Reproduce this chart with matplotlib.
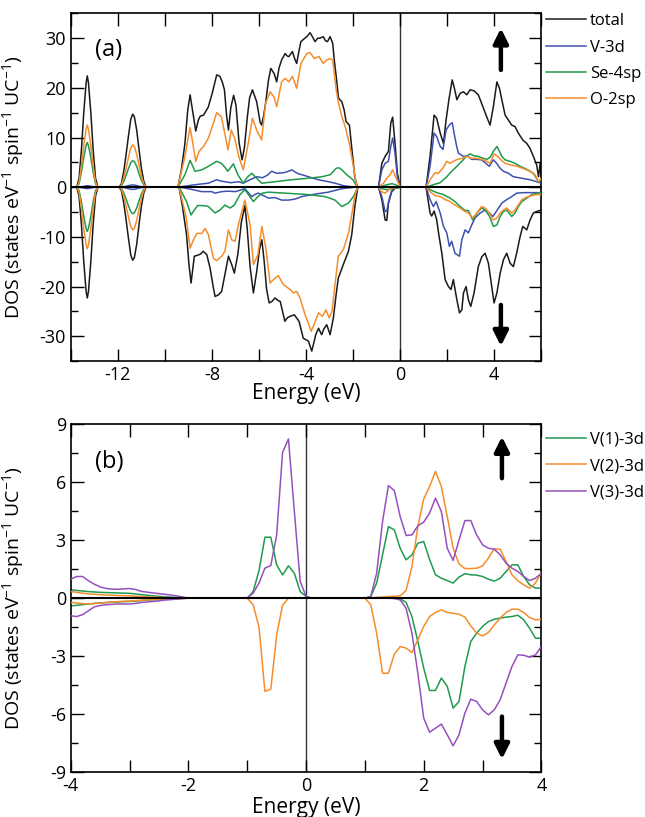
import matplotlib
matplotlib.use('Agg')
import matplotlib.pyplot as plt
from matplotlib.ticker import MultipleLocator, FuncFormatter

plt.rcParams['font.family'] = ['Open Sans', 'DejaVu Sans']
plt.rcParams['mathtext.fontset'] = 'custom'
plt.rcParams['mathtext.rm'] = 'Open Sans'
plt.rcParams['mathtext.it'] = 'Open Sans:italic'
plt.rcParams['axes.unicode_minus'] = False

# ---------------- panel (a) data : (energy eV, DOS) ----------------
p1_E = [-13.75, -13.65, -13.55, -13.45, -13.35, -13.3, -13.25, -13.15, -13.05, -12.95, -12.85]
p2_E = [-11.95, -11.85, -11.75, -11.65, -11.55, -11.45, -11.37, -11.3, -11.2, -11.1, -11.0, -10.9, -10.8]

total_up_p1 = [0, 1.8, 7.5, 15.0, 21.0, 22.4, 21.0, 15.0, 7.5, 1.8, 0]
total_up_p2 = [0, 0.7, 3.2, 6.6, 10.3, 13.7, 14.7, 14.2, 11.5, 7.5, 3.8, 1.2, 0]
total_dn_p1 = [0, -1.8, -7.5, -15.0, -21.0, -22.3, -21.0, -15.0, -7.5, -1.8, 0]
total_dn_p2 = [0, -0.7, -3.2, -6.6, -10.3, -13.7, -14.7, -14.2, -11.5, -7.5, -3.8, -1.2, 0]
v3d_up_p1 = [0, 0.02, 0.07, 0.17, 0.27, 0.3, 0.27, 0.17, 0.07, 0.02, 0]
v3d_up_p2 = [0, 0.03, 0.08, 0.17, 0.3, 0.42, 0.45, 0.42, 0.32, 0.18, 0.08, 0.03, 0]
v3d_dn_p1 = [0, -0.02, -0.07, -0.17, -0.27, -0.3, -0.27, -0.17, -0.07, -0.02, 0]
v3d_dn_p2 = [0, -0.03, -0.08, -0.17, -0.3, -0.42, -0.45, -0.42, -0.32, -0.18, -0.08, -0.03, 0]
se_up_p1 = [0, 0.7, 3.0, 6.0, 8.4, 9.0, 8.4, 6.0, 3.0, 0.7, 0]
se_up_p2 = [0, 0.25, 1.15, 2.4, 3.75, 4.95, 5.35, 5.15, 4.2, 2.7, 1.4, 0.45, 0]
se_dn_p1 = [0, -0.7, -2.9, -5.9, -8.3, -8.9, -8.3, -5.9, -2.9, -0.7, 0]
se_dn_p2 = [0, -0.25, -1.15, -2.4, -3.75, -4.95, -5.35, -5.15, -4.2, -2.7, -1.4, -0.45, 0]
o_up_p1 = [0, 1.0, 4.2, 8.4, 11.7, 12.5, 11.7, 8.4, 4.2, 1.0, 0]
o_up_p2 = [0, 0.4, 1.85, 3.8, 5.95, 7.9, 8.5, 8.2, 6.65, 4.35, 2.2, 0.7, 0]
o_dn_p1 = [0, -1.0, -4.2, -8.4, -11.6, -12.4, -11.6, -8.4, -4.2, -1.0, 0]
o_dn_p2 = [0, -0.4, -1.85, -3.85, -6.0, -8.0, -8.6, -8.3, -6.7, -4.4, -2.2, -0.7, 0]

total_up_rest = [
    (-9.45, 0), (-9.3, 3.5), (-9.15, 8.8), (-9.03, 15.5), (-8.93, 18.6), (-8.83, 15.5), (-8.69, 11.3),
    (-8.58, 13.5), (-8.5, 14.3), (-8.36, 14.5), (-8.16, 16.1), (-7.99, 18.9), (-7.8, 22.6), (-7.66, 22.3),
    (-7.55, 21.0), (-7.47, 19.6), (-7.38, 14.5), (-7.3, 11.5), (-7.2, 16.0), (-7.08, 18.5), (-6.98, 16.5),
    (-6.85, 9.0), (-6.72, 5.5), (-6.62, 8.0), (-6.5, 14.0), (-6.4, 18.0), (-6.28, 19.6), (-6.1, 17.2),
    (-5.95, 13.0), (-5.89, 12.5), (-5.8, 14.5), (-5.72, 16.9), (-5.6, 21.5), (-5.5, 23.9), (-5.36, 22.9),
    (-5.25, 21.2), (-5.15, 24.0), (-5.04, 25.6), (-4.89, 26.9), (-4.8, 26.4), (-4.73, 26.3), (-4.58, 27.3),
    (-4.48, 25.8), (-4.4, 24.9), (-4.3, 27.5), (-4.22, 29.3), (-4.1, 29.8), (-3.97, 30.3), (-3.83, 31.1),
    (-3.72, 30.2), (-3.62, 29.3), (-3.5, 30.0), (-3.41, 30.0), (-3.27, 30.3), (-3.18, 29.5), (-3.09, 29.3),
    (-2.98, 30.3), (-2.87, 29.0), (-2.8, 25.5), (-2.72, 22.3), (-2.62, 17.9), (-2.48, 17.2), (-2.38, 15.5),
    (-2.3, 13.2), (-2.16, 12.5), (-2.05, 7.5), (-1.93, 2.1), (-1.82, 0),
    (-0.92, 0), (-0.78, 4.8), (-0.64, 6.2), (-0.5, 7.2), (-0.4, 12.9), (-0.32, 14.1), (-0.22, 8.8),
    (-0.12, 2.8), (0.0, 0),
    (1.1, 0), (1.27, 6.2), (1.44, 14.5), (1.55, 13.9), (1.7, 10.9), (1.84, 8.8), (1.95, 13.5), (2.07, 17.6),
    (2.21, 21.6), (2.29, 20.2), (2.41, 17.6), (2.55, 18.9), (2.69, 19.2), (2.83, 18.6), (2.97, 19.6),
    (3.14, 19.4), (3.32, 18.6), (3.46, 16.9), (3.65, 14.5), (3.82, 12.5), (3.96, 16.2), (4.11, 21.2),
    (4.22, 19.9), (4.32, 17.6), (4.46, 14.5), (4.6, 13.5), (4.74, 12.5), (4.88, 12.2), (5.02, 10.9),
    (5.21, 9.5), (5.38, 8.8), (5.52, 7.8), (5.66, 6.2), (5.8, 4.5), (5.88, 2.1), (5.95, 4.8), (6.0, 2.1)]

total_dn_rest = [
    (-9.4, 0), (-9.25, -4.0), (-9.08, -9.6), (-8.98, -15.5), (-8.89, -19.3), (-8.75, -13.9), (-8.61, -13.7),
    (-8.5, -13.5), (-8.37, -12.9), (-8.22, -13.6), (-8.08, -16.3), (-7.95, -20.0), (-7.87, -22.0),
    (-7.73, -21.7), (-7.59, -21.0), (-7.45, -17.6), (-7.3, -13.9), (-7.16, -15.6), (-7.05, -17.3),
    (-6.9, -13.5), (-6.75, -7.0), (-6.6, -3.7), (-6.5, -8.5), (-6.38, -16.0), (-6.24, -21.3), (-6.1, -17.0),
    (-5.98, -12.5), (-5.88, -10.6), (-5.78, -15.0), (-5.68, -20.5), (-5.57, -23.3), (-5.45, -23.0),
    (-5.32, -22.3), (-5.2, -22.8), (-5.1, -23.0), (-4.9, -27.0), (-4.8, -26.3), (-4.68, -26.0), (-4.5, -25.7),
    (-4.3, -27.0), (-4.12, -30.4), (-3.9, -31.0), (-3.83, -32.0), (-3.76, -33.0), (-3.68, -31.5),
    (-3.59, -29.7), (-3.47, -28.4), (-3.34, -29.7), (-3.24, -28.5), (-3.12, -27.7), (-2.98, -29.7),
    (-2.84, -26.3), (-2.72, -21.5), (-2.63, -18.3), (-2.42, -15.6), (-2.2, -12.9), (-2.06, -9.6),
    (-1.92, -3.6), (-1.8, 0),
    (-0.92, 0), (-0.78, -2.5), (-0.64, -6.6), (-0.57, -6.7), (-0.5, -3.2), (-0.36, -0.9), (-0.22, -0.2), (0.0, 0),
    (1.1, 0), (1.2, -3.0), (1.27, -5.2), (1.34, -5.8), (1.44, -4.8), (1.55, -6.5), (1.63, -9.2), (1.77, -13.3),
    (1.91, -18.6), (2.05, -20.0), (2.16, -20.6), (2.26, -18.6), (2.41, -22.7), (2.52, -25.3), (2.62, -24.7),
    (2.69, -21.3), (2.8, -20.0), (2.9, -22.7), (3.0, -24.0), (3.14, -21.3), (3.32, -16.0), (3.47, -14.0),
    (3.61, -13.3), (3.75, -15.3), (3.89, -20.0), (3.99, -23.3), (4.11, -21.3), (4.25, -17.3), (4.39, -14.6),
    (4.53, -13.3), (4.67, -15.3), (4.81, -16.0), (4.95, -13.3), (5.1, -9.9), (5.21, -7.9), (5.38, -8.6),
    (5.52, -6.6), (5.66, -5.2), (5.8, -4.9), (6.0, -4.6)]

v3d_up_rest = [
    (-9.45, 0), (-9.0, 0.3), (-8.72, 0.5), (-8.15, 0.8), (-7.8, 1.5), (-7.6, 1.2), (-7.45, 1.1), (-7.2, 0.9),
    (-6.88, 1.1), (-6.67, 0.8), (-6.38, 1.5), (-6.1, 2.1), (-5.85, 1.9), (-5.65, 2.4), (-5.46, 3.2),
    (-5.25, 2.8), (-4.96, 2.9), (-4.75, 3.2), (-4.61, 3.5), (-4.45, 3.0), (-4.33, 2.7), (-4.1, 2.4),
    (-3.9, 2.1), (-3.48, 1.5), (-3.05, 1.1), (-2.77, 0.8), (-2.41, 0.3), (-2.1, 0.1), (-1.82, 0),
    (-0.92, 0), (-0.78, 3.5), (-0.64, 4.8), (-0.5, 5.2), (-0.4, 8.2), (-0.32, 9.9), (-0.22, 6.8),
    (-0.12, 2.1), (0.0, 0),
    (1.1, 0), (1.27, 4.2), (1.44, 10.9), (1.55, 10.2), (1.7, 8.2), (1.82, 7.6), (1.95, 11.5), (2.09, 12.5),
    (2.21, 13.0), (2.29, 10.9), (2.41, 8.0), (2.48, 6.8), (2.56, 6.6), (2.69, 6.2), (2.86, 6.3), (3.04, 5.6),
    (3.26, 5.6), (3.46, 5.5), (3.64, 4.8), (3.79, 4.2), (3.96, 5.5), (4.1, 4.8), (4.25, 3.8), (4.39, 3.2),
    (4.6, 2.8), (4.81, 2.1), (5.17, 1.8), (5.52, 1.5), (5.8, 1.1), (6.0, 0.8)]

v3d_dn_rest = [
    (-9.4, 0), (-9.01, -0.3), (-8.43, -0.9), (-8.01, -0.9), (-7.87, -1.2), (-7.59, -0.9), (-7.3, -0.8),
    (-7.0, -0.9), (-6.6, -0.3), (-6.31, -1.9), (-6.15, -1.4), (-6.03, -1.2), (-5.85, -1.6), (-5.6, -2.2),
    (-5.32, -2.1), (-5.04, -2.6), (-4.75, -2.6), (-4.47, -2.4), (-4.19, -1.9), (-3.62, -1.4), (-3.05, -1.0),
    (-2.48, -0.3), (-1.92, 0), (-1.8, 0),
    (-0.92, 0), (-0.78, -1.9), (-0.64, -4.9), (-0.57, -4.8), (-0.47, -2.5), (-0.36, -0.7), (-0.22, -0.1), (0.0, 0),
    (1.1, 0), (1.27, -2.5), (1.41, -3.9), (1.53, -2.9), (1.7, -5.2), (1.84, -7.9), (1.98, -9.2), (2.09, -11.9),
    (2.19, -10.9), (2.33, -13.3), (2.52, -13.9), (2.62, -10.6), (2.76, -8.6), (2.9, -9.2), (3.04, -7.6),
    (3.18, -6.2), (3.4, -5.2), (3.61, -4.6), (3.79, -5.2), (3.94, -5.9), (4.04, -5.2), (4.18, -4.2),
    (4.32, -3.2), (4.53, -2.5), (4.74, -1.9), (4.95, -1.2), (5.24, -1.1), (5.52, -1.1), (6.0, -1.1)]

se_up_rest = [
    (-9.45, 0), (-9.15, 2.5), (-8.93, 5.4), (-8.72, 3.2), (-8.43, 3.5), (-8.15, 4.2), (-7.8, 5.2), (-7.6, 4.8),
    (-7.45, 4.0), (-7.33, 3.2), (-7.09, 4.7), (-6.9, 2.5), (-6.67, 0.8), (-6.5, 2.0), (-6.31, 2.8),
    (-6.1, 1.8), (-5.89, 0.8), (-5.32, 1.1), (-4.61, 1.5), (-3.9, 1.8), (-3.33, 2.1), (-2.98, 2.5),
    (-2.72, 3.8), (-2.6, 3.9), (-2.48, 3.5), (-2.27, 2.5), (-2.01, 1.5), (-1.82, 0),
    (-0.92, 0), (-0.7, 0.3), (-0.55, 0.5), (-0.35, 0.7), (-0.2, 0.5), (0.0, 0),
    (1.1, 0), (1.41, 0.5), (1.7, 0.9), (1.98, 2.1), (2.19, 3.2), (2.41, 4.2), (2.62, 5.2), (2.83, 6.3),
    (2.97, 6.7), (3.14, 6.3), (3.32, 6.2), (3.54, 5.8), (3.68, 5.6), (3.82, 6.0), (3.96, 7.2), (4.11, 8.2),
    (4.22, 7.2), (4.32, 6.2), (4.46, 5.5), (4.67, 5.2), (4.88, 4.8), (5.1, 4.2), (5.38, 3.6), (5.66, 2.8),
    (5.88, 1.1), (6.0, 1.5)]

se_dn_rest = [
    (-9.4, 0), (-9.08, -2.9), (-8.89, -5.6), (-8.75, -4.6), (-8.61, -3.7), (-8.37, -3.7), (-8.15, -3.9),
    (-7.87, -5.2), (-7.66, -4.6), (-7.45, -3.6), (-7.23, -4.2), (-7.05, -3.6), (-6.81, -1.5), (-6.6, -0.5),
    (-6.24, -2.9), (-6.05, -1.9), (-5.86, -1.2), (-5.6, -1.0), (-4.9, -1.2), (-3.9, -1.5), (-3.19, -1.9),
    (-2.77, -2.6), (-2.48, -3.9), (-2.2, -3.2), (-1.99, -1.9), (-1.8, 0),
    (-0.92, 0), (-0.7, -0.4), (-0.55, -0.5), (-0.35, -0.3), (0.0, 0),
    (1.1, 0), (1.27, -0.5), (1.55, -1.1), (1.84, -1.5), (2.12, -2.2), (2.33, -2.9), (2.55, -3.9), (2.76, -4.7),
    (2.9, -4.7), (3.08, -6.6), (3.26, -5.2), (3.46, -4.2), (3.61, -4.6), (3.79, -5.8), (3.96, -7.9),
    (4.11, -7.6), (4.25, -5.9), (4.39, -4.9), (4.53, -4.6), (4.74, -5.9), (4.88, -5.2), (5.02, -3.9),
    (5.17, -2.9), (5.38, -2.2), (5.59, -1.5), (5.8, -1.2), (6.0, -1.1)]

o_up_rest = [
    (-9.45, 0), (-9.15, 6.2), (-9.03, 9.5), (-8.93, 12.0), (-8.82, 9.0), (-8.69, 5.2), (-8.55, 7.2),
    (-8.36, 8.2), (-8.15, 9.9), (-7.94, 12.9), (-7.8, 15.0), (-7.6, 14.2), (-7.43, 10.2), (-7.32, 7.5),
    (-7.18, 11.5), (-7.04, 9.9), (-6.85, 6.0), (-6.67, 3.5), (-6.46, 8.8), (-6.28, 13.9), (-6.1, 11.5),
    (-5.89, 9.5), (-5.72, 16.9), (-5.53, 19.2), (-5.36, 18.1), (-5.25, 16.2), (-5.04, 21.2), (-4.89, 21.9),
    (-4.73, 21.2), (-4.58, 22.3), (-4.4, 19.9), (-4.22, 24.9), (-3.97, 26.9), (-3.83, 27.1), (-3.65, 25.9),
    (-3.45, 26.3), (-3.27, 24.9), (-3.12, 25.6), (-2.98, 25.9), (-2.87, 25.6), (-2.72, 19.6), (-2.62, 16.9),
    (-2.48, 14.2), (-2.34, 12.2), (-2.16, 8.8), (-2.01, 4.8), (-1.87, 0.8), (-1.82, 0),
    (-0.92, 0), (-0.71, 0.8), (-0.57, 1.8), (-0.43, 2.5), (-0.32, 3.5), (-0.17, 1.8), (0.0, 0),
    (1.1, 0), (1.27, 1.5), (1.48, 2.9), (1.62, 2.8), (1.81, 3.8), (1.98, 5.2), (2.12, 4.8), (2.26, 5.2),
    (2.43, 5.6), (2.62, 5.8), (2.83, 6.2), (3.04, 5.8), (3.26, 5.8), (3.46, 5.6), (3.68, 5.2), (3.82, 4.8),
    (3.99, 6.7), (4.14, 6.2), (4.28, 5.5), (4.46, 4.8), (4.67, 4.5), (4.96, 4.2), (5.21, 3.8), (5.52, 3.2),
    (5.73, 2.5), (5.88, 1.1), (6.0, 1.8)]

o_dn_rest = [
    (-9.4, 0), (-9.1, -6.0), (-8.93, -12.3), (-8.79, -10.6), (-8.64, -9.3), (-8.43, -9.3), (-8.29, -8.3),
    (-8.15, -9.6), (-7.94, -14.3), (-7.8, -14.8), (-7.59, -13.9), (-7.45, -12.9), (-7.3, -8.6),
    (-7.16, -10.6), (-7.02, -10.9), (-6.85, -7.0), (-6.6, -2.6), (-6.38, -7.6), (-6.24, -15.6),
    (-6.05, -13.6), (-5.88, -7.9), (-5.71, -12.3), (-5.53, -19.3), (-5.32, -18.3), (-5.18, -17.8),
    (-4.97, -19.6), (-4.68, -20.6), (-4.54, -21.3), (-4.4, -21.0), (-4.26, -22.3), (-4.04, -25.7),
    (-3.78, -29.0), (-3.61, -27.0), (-3.47, -25.3), (-3.3, -26.0), (-3.16, -24.7), (-3.02, -26.3),
    (-2.9, -25.0), (-2.77, -19.6), (-2.63, -13.9), (-2.42, -12.6), (-2.2, -9.3), (-2.06, -5.6),
    (-1.92, -1.5), (-1.8, 0),
    (-0.92, 0), (-0.8, -0.9), (-0.64, -1.2), (-0.5, -0.6), (-0.3, -0.1), (0.0, 0),
    (1.1, 0), (1.27, -0.9), (1.48, -1.7), (1.7, -1.9), (1.91, -2.5), (2.12, -2.9), (2.33, -3.6), (2.55, -4.2),
    (2.76, -4.9), (2.9, -5.2), (3.08, -6.2), (3.26, -5.2), (3.46, -3.9), (3.61, -4.2), (3.79, -5.2),
    (3.96, -6.6), (4.11, -6.2), (4.25, -5.2), (4.39, -4.6), (4.53, -4.2), (4.74, -5.2), (4.88, -4.6),
    (5.02, -3.6), (5.17, -2.5), (5.38, -2.0), (5.59, -1.7), (5.8, -1.5), (6.0, -1.5)]

labels_a = ['total', 'V-3d', 'Se-4sp', 'O-2sp']
colors_a = ['#1a1a1a', '#3f51b0', '#1f9a4a', '#f58d2c']

# ---------------- panel (b) data ----------------
E_b = [-4.0, -3.9, -3.8, -3.7, -3.6, -3.5, -3.4, -3.3, -3.2, -3.1, -3.0, -2.9, -2.8, -2.6, -2.4, -2.2, -2.0,
       -1.0, -0.9, -0.8, -0.7, -0.6, -0.5, -0.4, -0.3, -0.2, -0.1, 0.0, 0.1,
       1.0, 1.1, 1.2, 1.3, 1.4, 1.5, 1.6, 1.7, 1.8, 1.9, 2.0, 2.1, 2.2, 2.3, 2.4, 2.5, 2.6, 2.7, 2.8, 2.9,
       3.0, 3.1, 3.2, 3.3, 3.4, 3.5, 3.6, 3.7, 3.8, 3.9, 4.0]

v1_up = [0.43, 0.4, 0.37, 0.34, 0.32, 0.3, 0.29, 0.28, 0.27, 0.26, 0.25, 0.22, 0.18, 0.12, 0.07, 0.03, 0,
         0, 0.34, 1.43, 3.15, 3.15, 1.72, 1.2, 1.67, 1.29, 0.34, 0.09, 0,
         0, 0.09, 0.78, 2.24, 3.7, 3.53, 2.58, 1.98, 2.24, 2.84, 2.93, 2.0, 1.21, 1.03, 0.91, 0.78, 1.09, 1.26,
         1.21, 1.19, 1.12, 0.98, 0.88, 1.03, 1.38, 1.72, 1.72, 1.12, 0.69, 0.52, 0.52]
v1_dn = [-0.4, -0.37, -0.33, -0.3, -0.27, -0.25, -0.23, -0.21, -0.2, -0.18, -0.17, -0.15, -0.12, -0.08, -0.05, -0.02, 0,
         0, 0, 0, 0, 0, 0, 0, 0, 0, 0, 0, 0,
         0, 0, 0, 0, 0, 0, -0.03, -0.22, -0.95, -2.24, -3.62, -4.77, -4.77, -4.13, -4.56, -5.68, -5.34, -3.53,
         -2.24, -1.81, -1.46, -1.21, -1.09, -1.03, -0.98, -0.95, -0.88, -1.12, -1.55, -2.07, -2.07]
v2_up = [0.34, 0.3, 0.26, 0.22, 0.2, 0.18, 0.16, 0.15, 0.14, 0.13, 0.12, 0.1, 0.08, 0.05, 0.03, 0.01, 0,
         0, 0, 0, 0, 0, 0, 0, 0, 0, 0, 0, 0,
         0, 0.02, 0.04, 0.06, 0.08, 0.1, 0.12, 0.4, 1.64, 3.7, 5.13, 5.77, 6.55, 5.77, 4.22, 2.58, 1.77, 1.53,
         1.53, 1.55, 1.67, 2.07, 2.55, 2.53, 1.9, 1.21, 0.9, 0.69, 0.52, 0.78, 1.34]
v2_dn = [-0.22, -0.25, -0.28, -0.3, -0.28, -0.25, -0.22, -0.2, -0.18, -0.16, -0.15, -0.13, -0.11, -0.07, -0.04, -0.02, 0,
         0, -0.34, -1.5, -4.82, -4.7, -1.9, -0.37, 0, 0, 0, 0, 0,
         0, -0.34, -1.81, -3.88, -3.88, -2.89, -2.5, -2.58, -2.81, -2.15, -1.46, -0.95, -0.74, -0.6, -0.74,
         -0.78, -0.83, -0.98, -1.43, -1.81, -1.95, -1.77, -1.38, -1.03, -0.74, -0.57, -0.57, -0.74, -1.0,
         -1.12, -1.09]
v3_up = [0.98, 1.12, 1.12, 0.9, 0.72, 0.58, 0.5, 0.47, 0.46, 0.48, 0.5, 0.45, 0.35, 0.27, 0.2, 0.12, 0.0,
         0, 0.26, 0.78, 1.55, 1.69, 3.27, 7.53, 8.23, 4.5, 0.86, 0.09, 0,
         0, 0.09, 1.29, 3.96, 5.82, 5.56, 4.22, 3.24, 3.27, 3.74, 3.93, 4.4, 5.17, 4.48, 2.58, 1.95, 3.0, 4.01,
         4.01, 3.27, 2.76, 2.58, 2.53, 2.24, 1.81, 1.55, 1.38, 1.12, 0.91, 1.03, 1.29]
v3_dn = [-0.91, -0.95, -0.85, -0.65, -0.45, -0.38, -0.34, -0.32, -0.3, -0.3, -0.3, -0.27, -0.22, -0.17, -0.1, -0.05, 0,
         0, 0, 0, 0, 0, 0, 0, 0, 0, 0, 0, 0,
         0, 0, 0, 0, 0, -0.02, -0.09, -0.52, -1.81, -3.88, -6.2, -6.93, -6.72, -6.51, -7.06, -7.63, -7.06,
         -5.94, -5.22, -5.34, -5.77, -6.03, -5.77, -5.25, -4.39, -3.53, -2.93, -2.95, -3.05, -2.93, -2.5]

labels_b = ['V(1)-3d', 'V(2)-3d', 'V(3)-3d']
colors_b = ['#1f9a4f', '#f58d2c', '#9650bd']

ylabel = 'DOS (states eV$^{-1}$ spin$^{-1}$ UC$^{-1}$)'


def series(p1, p2, rest):
    pts = [(-14.0, 0.0)] + list(zip(p1_E, p1)) + list(zip(p2_E, p2)) + rest
    return [p[0] for p in pts], [p[1] for p in pts]


fig = plt.figure(figsize=(6.45, 8.17), dpi=100)
ax1 = fig.add_axes([0.1098, 0.5581, 0.7295, 0.4256])
ax2 = fig.add_axes([0.1098, 0.0547, 0.7295, 0.4263])

up_a = [(total_up_p1, total_up_p2, total_up_rest), (v3d_up_p1, v3d_up_p2, v3d_up_rest),
        (se_up_p1, se_up_p2, se_up_rest), (o_up_p1, o_up_p2, o_up_rest)]
dn_a = [(total_dn_p1, total_dn_p2, total_dn_rest), (v3d_dn_p1, v3d_dn_p2, v3d_dn_rest),
        (se_dn_p1, se_dn_p2, se_dn_rest), (o_dn_p1, o_dn_p2, o_dn_rest)]
for i, (u, d) in enumerate(zip(up_a, dn_a)):
    x, y = series(*u)
    ax1.plot(x, y, color=colors_a[i], lw=1.1, label=labels_a[i], zorder=2 + i)
    x, y = series(*d)
    ax1.plot(x, y, color=colors_a[i], lw=1.1, zorder=2 + i)

for i, (u, d) in enumerate([(v1_up, v1_dn), (v2_up, v2_dn), (v3_up, v3_dn)]):
    ax2.plot(E_b, u, color=colors_b[i], lw=1.1, label=labels_b[i], zorder=2 + i)
    ax2.plot(E_b, d, color=colors_b[i], lw=1.1, zorder=2 + i)

for ax in (ax1, ax2):
    ax.axhline(0, color='black', lw=1.5, zorder=10)
    ax.axvline(0, color='#333333', lw=1.0, zorder=1)
    ax.tick_params(which='both', direction='in', top=True, right=True, labelsize=13, width=1.0)
    ax.tick_params(which='major', length=9)
    ax.tick_params(which='minor', length=5)
    for s in ax.spines.values():
        s.set_linewidth(1.2)
    ax.set_ylabel(ylabel, fontsize=14)
    ax.yaxis.set_label_coords(-0.095, 0.5)
    ax.set_xlabel('Energy (eV)', fontsize=15)

ax1.set_xlim(-14, 6)
ax1.set_ylim(-35, 35)
ax1.xaxis.set_major_locator(MultipleLocator(2))
ax1.xaxis.set_major_formatter(FuncFormatter(lambda v, p: f'{v:.0f}' if round(v) % 4 == 0 and v > -14 else ''))
ax1.yaxis.set_major_locator(MultipleLocator(10))
ax1.yaxis.set_minor_locator(MultipleLocator(5))
ax1.xaxis.set_label_coords(0.5, -0.062)

ax2.set_xlim(-4, 4)
ax2.set_ylim(-9, 9)
ax2.xaxis.set_major_locator(MultipleLocator(1))
ax2.xaxis.set_major_formatter(FuncFormatter(lambda v, p: f'{v:.0f}' if round(v) % 2 == 0 else ''))
ax2.yaxis.set_major_locator(MultipleLocator(3))
ax2.yaxis.set_minor_locator(MultipleLocator(1.5))
ax2.xaxis.set_label_coords(0.5, -0.072)

ax1.text(-12.38, 27.6, '(a)', fontsize=17, ha='center', va='center')
ax2.text(-3.34, 7.06, '(b)', fontsize=17, ha='center', va='center')

arrow = dict(arrowstyle='-|>', color='black', lw=3.2, mutation_scale=22, shrinkA=0, shrinkB=0)
ax1.annotate('', xy=(4.28, 32.0), xytext=(4.28, 23.6), arrowprops=arrow)
ax1.annotate('', xy=(4.28, -32.0), xytext=(4.28, -23.7), arrowprops=arrow)
ax2.annotate('', xy=(3.33, 8.35), xytext=(3.33, 6.2), arrowprops=arrow)
ax2.annotate('', xy=(3.33, -8.32), xytext=(3.33, -6.12), arrowprops=arrow)

leg_kw = dict(loc='upper left', frameon=False, fontsize=12, handlelength=2.4, handletextpad=0.25,
              labelspacing=0.62, borderpad=0, borderaxespad=0)
ax1.legend(bbox_to_anchor=(1.01, 1.0), **leg_kw)
ax2.legend(bbox_to_anchor=(1.01, 0.978), **leg_kw)

fig.savefig('out.png', dpi=100)
